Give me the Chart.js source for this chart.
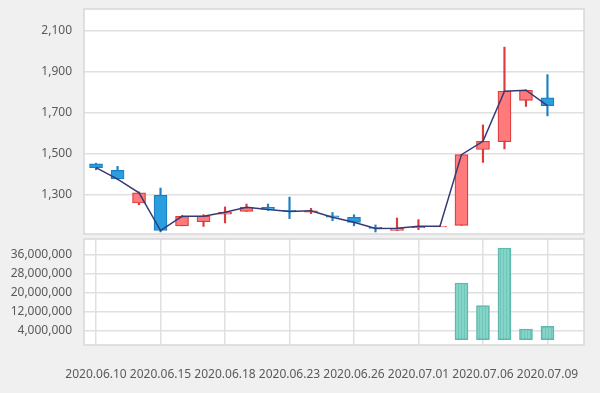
<!DOCTYPE html>
<html>
<head>
<meta charset="utf-8">
<script src="https://cdn.jsdelivr.net/npm/chart.js@4"></script>
<style>
  html, body { margin: 0; padding: 0; background: #f0f0f0; }
  #wrap { position: relative; width: 600px; height: 393px; }
  canvas { position: absolute; left: 0; top: 0; }
</style>
</head>
<body>
<div id="wrap">
  <canvas id="price" width="600" height="393"></canvas>
  <canvas id="volume" width="600" height="393"></canvas>
</div>
<script>
// 거래일
const dates = ['2020.06.10','2020.06.11','2020.06.12','2020.06.15','2020.06.16','2020.06.17','2020.06.18',
  '2020.06.19','2020.06.22','2020.06.23','2020.06.24','2020.06.25','2020.06.26','2020.06.29','2020.06.30',
  '2020.07.01','2020.07.02','2020.07.03','2020.07.06','2020.07.07','2020.07.08','2020.07.09'];

// 시가 / 종가 / 고가 / 저가
const open  = [1452,1420,1261,1298,1150,1170,1207,1220,1240,1226,1217,1199,1191,1142,1127,1141,1144,1152,1522,1560,1761,1774];
const close = [1434,1378,1311,1127,1196,1197,1216,1240,1230,1220,1223,1192,1167,1137,1138,1148,1148,1497,1562,1806,1811,1736];
const high  = [1455,1440,1315,1334,1200,1204,1242,1256,1256,1290,1235,1215,1204,1154,1188,1180,1150,1497,1642,2021,1813,1887];
const low   = [1423,1376,1253,1120,1150,1147,1164,1220,1225,1185,1209,1175,1150,1120,1127,1131,1146,1152,1459,1525,1732,1686];

// 거래량
const volume = [0,0,0,0,0,0,0,0,0,0,0,0,0,0,0,0,0,24000000,14500000,38800000,4500000,5700000];

// 눈금
const dateTicks = [0,3,6,9,12,15,18,21];
const priceTicks = [1300,1500,1700,1900,2100];
const volumeTicks = [4000000,12000000,20000000,28000000,36000000];

const textColor = '#5a5a5a';
const gridColor = '#e0e0e0';
const font = { family: 'Noto Sans', size: 12 };

const upFill = '#ff7b7b', upLine = '#db3b3b';
const downFill = '#2a9fe0', downLine = '#1d7fc2';

// 흰 배경 + 테두리
const plotBox = {
  id: 'plotBox',
  beforeDraw(chart) {
    const a = chart.chartArea, c = chart.ctx;
    c.save();
    c.fillStyle = '#fff';
    c.fillRect(a.left, a.top, a.right - a.left, a.bottom - a.top);
    c.restore();
  },
  afterDraw(chart) {
    const a = chart.chartArea, c = chart.ctx;
    c.save();
    c.strokeStyle = '#d8d8d8';
    c.lineWidth = 1.5;
    c.strokeRect(a.left, a.top, a.right - a.left, a.bottom - a.top);
    c.restore();
  }
};

function isUp(i) { return close[i] >= open[i]; }

// y축 폭 고정, 라벨 여백 제거
function fitY(s) {
  s.width = 84;
  s.paddingTop = 0;
  s.paddingBottom = 0;
}

const xMin = -0.56, xMax = 22.7;

new Chart(document.getElementById('price'), {
  data: {
    datasets: [
      {
        type: 'line',
        data: close.map((v, i) => ({ x: i, y: v })),
        borderColor: '#363a74',
        borderWidth: 1.5,
        pointRadius: 0,
        tension: 0,
        order: 0
      },
      {
        type: 'bar',
        data: open.map((v, i) => ({ x: i, y: [v, close[i]] })),
        backgroundColor: c => isUp(c.dataIndex) ? upFill : downFill,
        borderColor: c => isUp(c.dataIndex) ? upLine : downLine,
        borderWidth: 1.2,
        borderSkipped: false,
        barThickness: 13,
        grouped: false,
        order: 1
      },
      {
        type: 'bar',
        data: low.map((v, i) => ({ x: i, y: [v, high[i]] })),
        backgroundColor: c => isUp(c.dataIndex) ? upLine : downLine,
        borderWidth: 0,
        barThickness: 1.5,
        grouped: false,
        order: 2
      }
    ]
  },
  options: {
    responsive: false,
    animation: false,
    layout: { padding: { top: 9, right: 16, bottom: 159, left: 0 } },
    plugins: { legend: { display: false }, tooltip: { enabled: false } },
    scales: {
      x: { type: 'linear', min: xMin, max: xMax, offset: false, display: false },
      y: {
        min: 1110, max: 2207,
        afterBuildTicks: s => { s.ticks = priceTicks.map(v => ({ value: v })); },
        afterFit: fitY,
        grid: { color: gridColor, lineWidth: 1.5, drawTicks: false },
        border: { display: false },
        ticks: { color: textColor, font: font, padding: 12,
          callback: v => v.toLocaleString('en-US') }
      }
    }
  },
  plugins: [plotBox]
});

// 세로 줄무늬 패턴
const pc = document.createElement('canvas');
pc.width = 3; pc.height = 4;
const pctx = pc.getContext('2d');
pctx.fillStyle = '#84d4c8';
pctx.fillRect(0, 0, 3, 4);
pctx.fillStyle = '#70c6b9';
pctx.fillRect(2, 0, 1, 4);
const stripes = pctx.createPattern(pc, 'repeat');

new Chart(document.getElementById('volume'), {
  type: 'bar',
  data: {
    datasets: [{
      data: volume.map((v, i) => ({ x: i, y: v || null })),
      backgroundColor: stripes,
      borderColor: '#5db9ab',
      borderWidth: 1.5,
      borderSkipped: false,
      barThickness: 13
    }]
  },
  options: {
    responsive: false,
    animation: false,
    layout: { padding: { top: 239, right: 16, bottom: 0, left: 0 } },
    plugins: { legend: { display: false }, tooltip: { enabled: false } },
    scales: {
      x: {
        type: 'linear', min: xMin, max: xMax, offset: false,
        afterBuildTicks: s => { s.ticks = dateTicks.map(v => ({ value: v })); },
        afterFit: s => { s.height = 48; s.paddingLeft = 0; s.paddingRight = 0; },
        grid: { color: gridColor, lineWidth: 1.5, drawTicks: false, offset: false },
        border: { display: false },
        ticks: { color: textColor, font: font, padding: 22, maxRotation: 0, autoSkip: false,
          callback: v => dates[v] }
      },
      y: {
        min: -2200000, max: 42600000,
        afterBuildTicks: s => { s.ticks = volumeTicks.map(v => ({ value: v })); },
        afterFit: fitY,
        grid: { color: gridColor, lineWidth: 1.5, drawTicks: false },
        border: { display: false },
        ticks: { color: textColor, font: font, padding: 12,
          callback: v => v.toLocaleString('en-US') }
      }
    }
  },
  plugins: [plotBox]
});
</script>
</body>
</html>
